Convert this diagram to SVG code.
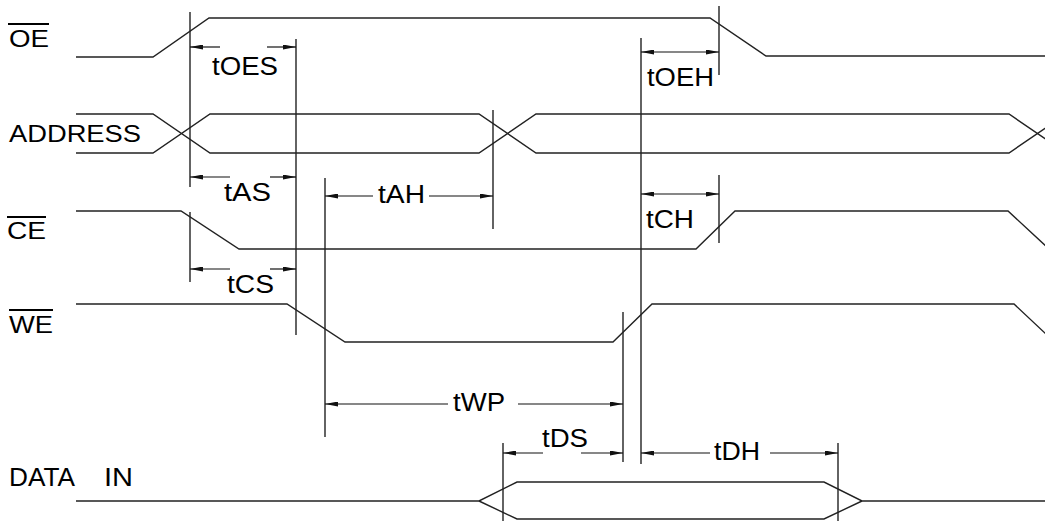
<svg xmlns="http://www.w3.org/2000/svg" width="1045" height="522" viewBox="0 0 1045 522">
<style>
  text { font-family: "Liberation Sans", Arial, sans-serif; fill: #000; }
  .lbl { font-size: 24px; }
  .big { font-size: 26px; }
  .sig { fill: none; stroke: #222; stroke-width: 1.4; stroke-linejoin: miter; }
  .ov { stroke: #000; stroke-width: 2; }
  .ref { stroke: #222; stroke-width: 1.4; fill: none; }
  .dim { stroke: #111; stroke-width: 1.2; fill: none; }
  .a2 { marker-end: url(#ah); }
  .a1 { marker-start: url(#ah); }
</style>
<defs>
  <marker id="ah" markerUnits="userSpaceOnUse" viewBox="0 0 13 5" refX="13" refY="2.5" markerWidth="13" markerHeight="5" orient="auto-start-reverse">
    <path d="M0,0 L13,2.5 L0,5 Z" fill="#111"/>
  </marker>
</defs>
<rect width="1045" height="522" fill="#fff"/>

<g id="oe">
  <text class="lbl" x="9" y="47" textLength="40" lengthAdjust="spacingAndGlyphs">OE</text>
  <line class="ov" x1="8" y1="24" x2="49" y2="24"/>
  <path class="sig" d="M76,57 L153,57 L209,18 L710,18 L766,56 L1045,56"/>
</g>
<g id="address">
  <text class="lbl" x="9" y="142" textLength="132" lengthAdjust="spacingAndGlyphs">ADDRESS</text>
  <path class="sig" d="M76,114 L153,114 L210,153 L479,153 L536,114 L1009,114 L1066,153"/>
  <path class="sig" d="M76,153 L153,153 L210,114 L479,114 L536,153 L1009,153 L1066,114"/>
</g>
<g id="ce">
  <text class="lbl" x="7" y="239" textLength="39" lengthAdjust="spacingAndGlyphs">CE</text>
  <line class="ov" x1="7" y1="217" x2="46" y2="217"/>
  <path class="sig" d="M76,211 L181,211 L239,249 L696,249 L735,211 L1008,211 L1048,248"/>
</g>
<g id="we">
  <text class="lbl" x="9" y="333" textLength="44" lengthAdjust="spacingAndGlyphs">WE</text>
  <line class="ov" x1="9" y1="310" x2="53" y2="310"/>
  <path class="sig" d="M76,304 L287,304 L345,342 L613,342 L652,304 L1014,304 L1047,335"/>
</g>
<g id="datain">
  <text class="big" x="9" y="486" textLength="66" lengthAdjust="spacingAndGlyphs">DATA</text>
  <text class="big" x="104" y="486" textLength="29" lengthAdjust="spacingAndGlyphs">IN</text>
  <path class="sig" d="M76,501 L479,501 L517,482 L824,482 L862,501 L1045,501"/>
  <path class="sig" d="M479,501 L517,519 L824,519 L862,501"/>
</g>

<g id="connectors">
  <g id="refs">
    <line class="ref" x1="190" y1="12" x2="190" y2="187"/>
    <line class="ref" x1="190" y1="212" x2="190" y2="282"/>
    <line class="ref" x1="296" y1="39" x2="296" y2="335"/>
    <line class="ref" x1="325" y1="178" x2="325" y2="437"/>
    <line class="ref" x1="493" y1="110" x2="493" y2="229"/>
    <line class="ref" x1="641" y1="38" x2="641" y2="464"/>
    <line class="ref" x1="719" y1="6" x2="719" y2="75"/>
    <line class="ref" x1="719" y1="175" x2="719" y2="243"/>
    <line class="ref" x1="623" y1="312" x2="623" y2="462"/>
    <line class="ref" x1="503" y1="443" x2="503" y2="521"/>
    <line class="ref" x1="838" y1="443" x2="838" y2="521"/>
  </g>
  <g id="tOES">
    <line class="dim a1" x1="190" y1="47" x2="220" y2="47"/>
    <line class="dim a2" x1="267" y1="47" x2="296" y2="47"/>
    <text class="big" x="212" y="75" textLength="66" lengthAdjust="spacingAndGlyphs">tOES</text>
  </g>
  <g id="tOEH">
    <line class="dim a1 a2" x1="641" y1="52" x2="719" y2="52"/>
    <text class="big" x="647" y="86" textLength="67" lengthAdjust="spacingAndGlyphs">tOEH</text>
  </g>
  <g id="tAS">
    <line class="dim a1" x1="190" y1="177" x2="230" y2="177"/>
    <line class="dim a2" x1="270" y1="177" x2="296" y2="177"/>
    <text class="big" x="224" y="201" textLength="47" lengthAdjust="spacingAndGlyphs">tAS</text>
  </g>
  <g id="tAH">
    <line class="dim a1" x1="325" y1="196" x2="373" y2="196"/>
    <line class="dim a2" x1="429" y1="196" x2="493" y2="196"/>
    <text class="big" x="378" y="203" textLength="47" lengthAdjust="spacingAndGlyphs">tAH</text>
  </g>
  <g id="tCH">
    <line class="dim a1 a2" x1="641" y1="194" x2="719" y2="194"/>
    <text class="big" x="646" y="228" textLength="48" lengthAdjust="spacingAndGlyphs">tCH</text>
  </g>
  <g id="tCS">
    <line class="dim a1" x1="190" y1="269" x2="230" y2="269"/>
    <line class="dim a2" x1="270" y1="269" x2="296" y2="269"/>
    <text class="big" x="227" y="293" textLength="47" lengthAdjust="spacingAndGlyphs">tCS</text>
  </g>
  <g id="tWP">
    <line class="dim a1" x1="325" y1="404" x2="448" y2="404"/>
    <line class="dim a2" x1="518" y1="404" x2="623" y2="404"/>
    <text class="big" x="453" y="411" textLength="52" lengthAdjust="spacingAndGlyphs">tWP</text>
  </g>
  <g id="tDS">
    <line class="dim a1" x1="503" y1="453" x2="543" y2="453"/>
    <line class="dim a2" x1="581" y1="453" x2="623" y2="453"/>
    <text class="big" x="542" y="447" textLength="46" lengthAdjust="spacingAndGlyphs">tDS</text>
  </g>
  <g id="tDH">
    <line class="dim a1" x1="641" y1="453" x2="710" y2="453"/>
    <line class="dim a2" x1="770" y1="453" x2="838" y2="453"/>
    <text class="big" x="714" y="460" textLength="46" lengthAdjust="spacingAndGlyphs">tDH</text>
  </g>
</g>
</svg>
